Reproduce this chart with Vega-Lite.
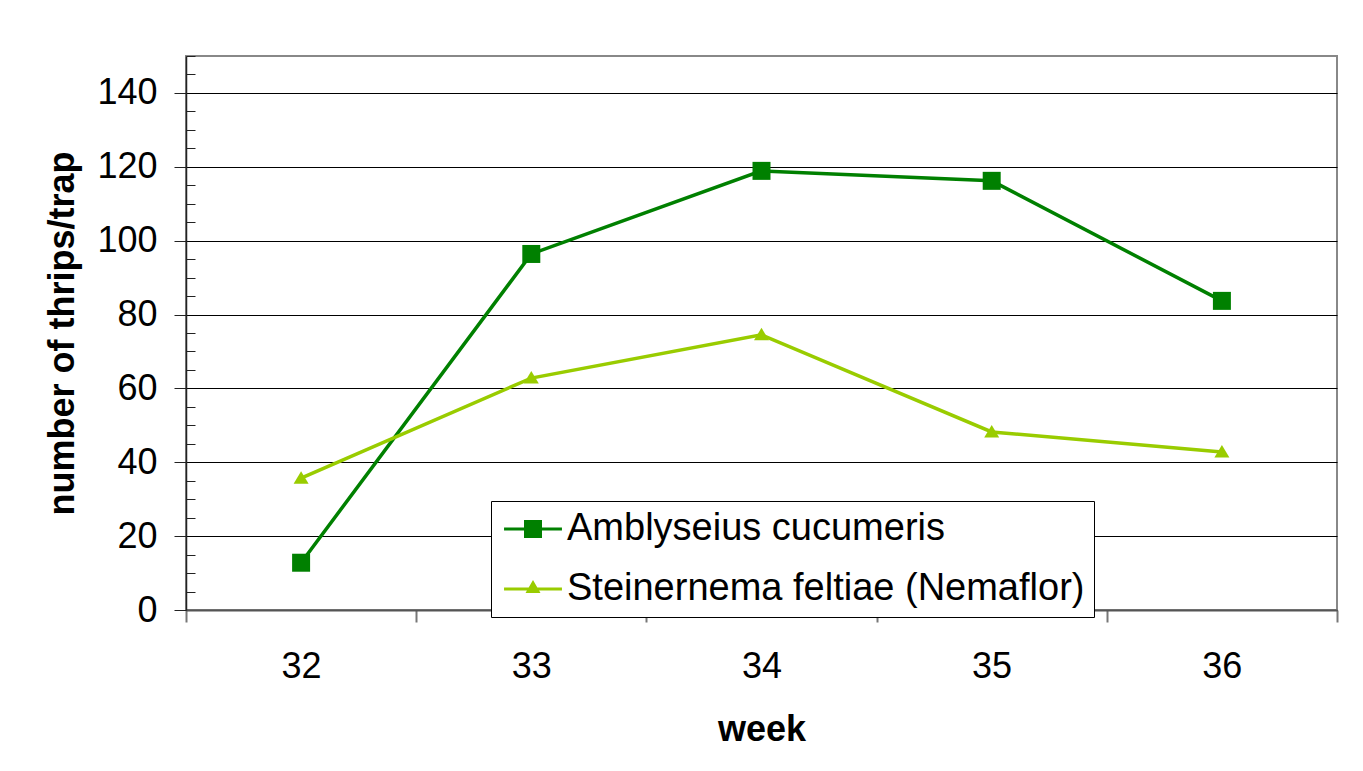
{
  "$schema": "https://vega.github.io/schema/vega-lite/v6.json",
  "width": 1151,
  "height": 554,
  "autosize": "none",
  "padding": {"left": 186, "top": 56, "right": 26, "bottom": 161},
  "background": "white",
  "config": {
    "font": "Liberation Sans",
    "view": {"stroke": "#888888", "strokeWidth": 2}
  },
  "data": {
    "values": [
      {"week": 32, "series": "Amblyseius cucumeris", "value": 12.8},
      {"week": 33, "series": "Amblyseius cucumeris", "value": 96.4},
      {"week": 34, "series": "Amblyseius cucumeris", "value": 118.9},
      {"week": 35, "series": "Amblyseius cucumeris", "value": 116.2},
      {"week": 36, "series": "Amblyseius cucumeris", "value": 83.7},
      {"week": 32, "series": "Steinernema feltiae (Nemaflor)", "value": 35.7},
      {"week": 33, "series": "Steinernema feltiae (Nemaflor)", "value": 62.8},
      {"week": 34, "series": "Steinernema feltiae (Nemaflor)", "value": 74.5},
      {"week": 35, "series": "Steinernema feltiae (Nemaflor)", "value": 48.2},
      {"week": 36, "series": "Steinernema feltiae (Nemaflor)", "value": 42.8}
    ]
  },
  "encoding": {
    "x": {
      "field": "week",
      "type": "quantitative",
      "scale": {"domain": [31.5, 36.5], "nice": false, "zero": false},
      "axis": {
        "values": [31.5, 32.5, 33.5, 34.5, 35.5, 36.5],
        "labelExpr": "datum.value < 36 ? format(datum.value + 0.5, 'd') : ''",
        "labelOffset": 115,
        "labelOverlap": false,
        "labelFlush": false,
        "labelBound": false,
        "labelFontSize": 36,
        "labelColor": "black",
        "labelBaseline": "alphabetic",
        "labelPadding": 55,
        "tickSize": 12,
        "tickColor": "#777777",
        "tickWidth": 2,
        "domainColor": "#555555",
        "domainWidth": 2,
        "grid": false,
        "title": "week",
        "titleFontSize": 36,
        "titleFontWeight": "bold",
        "titleColor": "black",
        "titleBaseline": "alphabetic",
        "titleY": 130
      }
    },
    "color": {
      "field": "series",
      "type": "nominal",
      "scale": {
        "domain": ["Amblyseius cucumeris", "Steinernema feltiae (Nemaflor)"],
        "range": ["#008000", "#99CC00"]
      },
      "legend": {
        "orient": "none",
        "legendX": 305,
        "legendY": 445,
        "title": null,
        "padding": 9,
        "symbolOffset": 14,
        "labelOffset": 15,
        "symbolSize": 900,
        "symbolOpacity": 1,
        "symbolStrokeWidth": 0,
        "rowPadding": 22,
        "labelFontSize": 38,
        "labelColor": "black",
        "labelLimit": 1000,
        "strokeColor": "black",
        "fillColor": "white"
      }
    }
  },
  "layer": [
    {
      "mark": {"type": "line", "strokeWidth": 3.5},
      "encoding": {
        "y": {
          "field": "value",
          "type": "quantitative",
          "scale": {"domain": [0, 150], "nice": false},
          "axis": {
            "values": [0, 20, 40, 60, 80, 100, 120, 140],
            "grid": true,
            "gridColor": "black",
            "gridWidth": 1,
            "gridOpacity": 1,
            "tickSize": 12,
            "tickColor": "#222222",
            "domainColor": "#222222",
            "domainWidth": 1.5,
            "labelFontSize": 36,
            "labelColor": "black",
            "labelPadding": 17,
            "title": "number of thrips/trap",
            "titleFontSize": 36,
            "titleFontWeight": "bold",
            "titleColor": "black",
            "titleBaseline": "alphabetic",
            "titleX": -113,
            "titleY": 277,
            "titleAlign": "center"
          }
        }
      }
    },
    {
      "transform": [{"filter": "datum.series === 'Amblyseius cucumeris'"}],
      "mark": {"type": "point", "filled": true, "opacity": 1, "size": 400, "shape": "M-0.9,-0.9H0.9V0.9H-0.9Z"},
      "encoding": {
        "y": {
          "field": "value",
          "type": "quantitative",
          "axis": {
            "orient": "left",
            "values": [5, 10, 15, 25, 30, 35, 45, 50, 55, 65, 70, 75, 85, 90, 95, 105, 110, 115, 125, 130, 135, 145, 150],
            "labels": false,
            "domain": false,
            "grid": false,
            "tickSize": -9,
            "tickColor": "#222222",
            "title": null
          }
        }
      }
    },
    {
      "transform": [{"filter": "datum.series === 'Steinernema feltiae (Nemaflor)'"}],
      "mark": {"type": "point", "filled": true, "opacity": 1, "size": 400, "shape": "M0,-0.7L0.75,0.55H-0.75Z"},
      "encoding": {
        "y": {"field": "value", "type": "quantitative", "axis": null}
      }
    },
    {
      "mark": {"type": "point", "filled": true, "opacity": 0, "size": 100},
      "encoding": {
        "y": {"field": "value", "type": "quantitative", "axis": null},
        "shape": {
          "field": "series",
          "type": "nominal",
          "scale": {
            "domain": ["Amblyseius cucumeris", "Steinernema feltiae (Nemaflor)"],
            "range": [
              "M-1.93,-0.1H1.93V0.1H-1.93ZM-0.6,-0.6H0.6V0.6H-0.6Z",
              "M-1.93,-0.1H1.93V0.1H-1.93ZM0,-0.6L0.5,0.27H-0.5Z"
            ]
          },
          "legend": {
            "orient": "none",
            "legendX": 305,
            "legendY": 445,
            "title": null,
            "padding": 9,
            "symbolOffset": 14,
            "labelOffset": 15,
            "symbolSize": 900,
            "symbolOpacity": 1,
            "symbolStrokeWidth": 0,
            "rowPadding": 22,
            "labelFontSize": 38,
            "labelColor": "black",
            "labelLimit": 1000,
            "strokeColor": "black",
            "fillColor": "white"
          }
        }
      }
    }
  ],
  "resolve": {"axis": {"y": "independent"}}
}
